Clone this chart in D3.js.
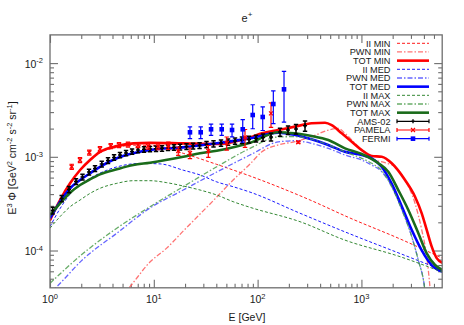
<!DOCTYPE html>
<html lang="en">
<head>
<meta charset="UTF-8">
<title>e+ spectrum</title>
<script src="https://d3js.org/d3.v7.min.js"></script>
<style>
  body { margin: 0; background: #fff; }
  svg text { font-family: "Liberation Sans", Arial, sans-serif; fill: #1a1a1a; }
</style>
</head>
<body>
<div id="chart"></div>
<script>
// model curves, pairs of [E in GeV, E^3 Phi]
const iiMin = [[1,2.05e-4],[1.25,3.38e-4],[1.56,5.1e-4],[1.95,7.1e-4],[2.43,9.05e-4],[3.03,1.1e-3],[4.4,1.26e-3],[6.35,1.33e-3],[9.2,1.32e-3],[13.3,1.23e-3],[19.2,1.09e-3],[40.4,8.3e-4],[84.5,6.24e-4],[320,3.46e-4],[777,2.22e-4],[2354,1.33e-4],[6000,8.3e-5]];
const pwnMin = [[5,3.3e-5],[5.9,4.11e-5],[9.18,7.53e-5],[13.3,1.06e-4],[19.2,1.61e-4],[27.9,2.45e-4],[40.4,3.72e-4],[58.1,5.65e-4],[84.5,8.37e-4],[110,1.13e-3],[158,1.34e-3],[229,1.45e-3],[332,1.64e-3],[480,1.93e-3],[599,2.01e-3],[695,1.78e-3],[867,1.39e-3],[1083,1.09e-3],[1352,9.24e-4],[1687,8.65e-4],[2107,7.84e-4],[2630,5.65e-4],[3284,3.19e-4],[3810,1.66e-4],[4256,8.6e-5],[4580,3.98e-5],[4800,2e-5]];
const totMin = [[1,2.11e-4],[1.25,3.46e-4],[1.56,5.21e-4],[1.95,7.23e-4],[2.43,9.24e-4],[3.03,1.13e-3],[4.4,1.3e-3],[6.35,1.39e-3],[9.2,1.41e-3],[19.2,1.39e-3],[40.4,1.37e-3],[80,1.58e-3],[110,1.78e-3],[158,1.93e-3],[229,2.1e-3],[332,2.28e-3],[446,2.31e-3],[517,2.18e-3],[646,1.78e-3],[807,1.45e-3],[1007,1.18e-3],[1256,1.02e-3],[1570,1.0e-3],[1959,8.53e-4],[2630,5.65e-4],[3284,3.75e-4],[3810,2.49e-4],[4256,1.66e-4],[4755,1.1e-4],[5310,8.3e-5],[6000,7.4e-5]];
const iiMed = [[1,1.8e-4],[1.25,2.8e-4],[1.56,4.0e-4],[1.95,5.0e-4],[2.43,5.9e-4],[3.03,6.7e-4],[4.4,7.8e-4],[7.4,8.5e-4],[11.5,8.4e-4],[19.2,7.2e-4],[27.9,6.4e-4],[40.4,5.4e-4],[58,4.8e-4],[84.5,4.2e-4],[256,2.5e-4],[695,1.58e-4],[2350,9.3e-5],[6000,6.2e-5]];
const pwnMed = [[1,3.5e-5],[1.16,4.1e-5],[2.09,8.1e-5],[4.4,1.53e-4],[9.18,2.84e-4],[19.2,4.42e-4],[40.4,6.88e-4],[84.5,1.045e-3],[158,1.44e-3],[229,1.485e-3],[332,1.39e-3],[480,1.23e-3],[695,1.045e-3],[1007,9.24e-4],[1256,8.17e-4],[1570,6.93e-4],[1959,4.8e-4],[2455,2.71e-4],[3055,1.4e-4],[3530,7.9e-5],[4060,4.0e-5],[4300,2.2e-5]];
const totMed = [[1,2.21e-4],[1.25,3.32e-4],[1.56,4.61e-4],[1.95,5.65e-4],[2.43,6.67e-4],[3.03,7.83e-4],[4.4,9.64e-4],[6.31,1.089e-3],[9.18,1.183e-3],[19.05,1.262e-3],[40.4,1.393e-3],[84.5,1.574e-3],[158,1.807e-3],[229,1.71e-3],[331,1.538e-3],[479,1.337e-3],[692,1.132e-3],[1007,1.045e-3],[1259,9.64e-4],[1567,7.83e-4],[1950,5.21e-4],[2455,2.93e-4],[3055,1.656e-4],[3800,1.01e-4],[4750,7.0e-5],[6000,5.95e-5]];
const iiMax = [[1,1.73e-4],[1.25,2.3e-4],[1.56,2.93e-4],[1.95,3.46e-4],[2.43,4.07e-4],[3.03,4.61e-4],[4.4,5.21e-4],[6.35,5.56e-4],[9.18,5.56e-4],[13.3,5.3e-4],[19.2,4.88e-4],[27.9,4.42e-4],[40.4,3.91e-4],[58.1,3.32e-4],[84.5,2.89e-4],[256,2.03e-4],[695,1.29e-4],[2354,8.6e-5],[6000,5.9e-5]];
const pwnMax = [[1,4.47e-5],[2.09,9.33e-5],[4.4,1.73e-4],[9.18,2.93e-4],[19.2,4.8e-4],[40.4,7.84e-4],[84.5,1.23e-3],[158,1.63e-3],[229,1.64e-3],[332,1.54e-3],[480,1.34e-3],[695,1.13e-3],[1007,9.64e-4],[1256,8.53e-4],[1570,7.11e-4],[1959,4.8e-4],[2455,2.71e-4],[3055,1.4e-4],[3530,7.9e-5],[4060,4.0e-5],[4300,2.2e-5]];
const totMax = [[1,2.39e-4],[1.25,3.19e-4],[1.56,4.14e-4],[1.95,5.0e-4],[2.43,5.75e-4],[3.03,6.5e-4],[4.4,7.36e-4],[6.35,8.17e-4],[9.18,8.65e-4],[19.2,1.0e-3],[27.9,1.09e-3],[40.4,1.16e-3],[84.5,1.41e-3],[158,1.83e-3],[229,1.78e-3],[332,1.67e-3],[480,1.51e-3],[695,1.23e-3],[1007,1.07e-3],[1455,8.53e-4],[1815,6.93e-4],[2265,4.42e-4],[2830,2.71e-4],[3535,1.53e-4],[4256,9.33e-5],[5117,7.0e-5],[6000,6.2e-5]];

// measurements: energy, value, error
const amsE = [1.06,1.296,1.524,1.78,2.056,2.376,2.714,3.15,3.62,4.14,4.72,5.4,6.17,7.04,8.05,9.19,10.5,12.0,13.7,15.65,17.9,20.65,23.9,27.6,32.2,37.6,44.4,51.9,60.6,70.7,82.6,96.5,112.7,134.6,164.4,196.3,234.4,286.2];
const amsV = [2.67e-4,3.59e-4,4.48e-4,5.45e-4,6.09e-4,6.88e-4,7.5e-4,8.38e-4,9.13e-4,9.83e-4,1.045e-3,1.098e-3,1.139e-3,1.182e-3,1.202e-3,1.211e-3,1.22e-3,1.232e-3,1.251e-3,1.263e-3,1.272e-3,1.288e-3,1.304e-3,1.32e-3,1.353e-3,1.38e-3,1.404e-3,1.439e-3,1.474e-3,1.511e-3,1.53e-3,1.568e-3,1.607e-3,1.627e-3,1.839e-3,1.932e-3,1.981e-3,2.147e-3];
const amsErr = [2.2e-5,2.8e-5,3.4e-5,4.0e-5,4.4e-5,4.8e-5,5.2e-5,5.8e-5,6.2e-5,6.6e-5,7.0e-5,7.3e-5,7.5e-5,7.8e-5,8.0e-5,8.1e-5,8.2e-5,8.3e-5,8.4e-5,8.6e-5,8.8e-5,9.0e-5,9.3e-5,9.6e-5,1.0e-4,1.04e-4,1.08e-4,1.12e-4,1.16e-4,1.2e-4,1.25e-4,1.33e-4,1.42e-4,1.52e-4,1.8e-4,2.0e-4,2.3e-4,2.7e-4];
const pamE = [1.618,1.945,2.391,3.03,3.845,4.62,5.64,7.04,8.79,10.98,13.8,17.2,22.3,33.5,50.4,75.6,134.6,246.6];
const pamV = [7.84e-4,9.24e-4,1.111e-3,1.211e-3,1.304e-3,1.336e-3,1.353e-3,1.336e-3,1.304e-3,1.288e-3,1.32e-3,1.153e-3,1.098e-3,1.153e-3,1.404e-3,1.607e-3,2.91e-3,1.429e-3];
const pamErr = [4.9e-5,5.8e-5,7.0e-5,7.6e-5,8.2e-5,8.4e-5,8.5e-5,8.4e-5,9.9e-5,9.8e-5,1.19e-4,1.19e-4,1.43e-4,1.67e-4,2.23e-4,3.49e-4,8.5e-4,3e-5];
const fermiE = [22.3,28.3,35.6,45.1,56.7,71.9,89.7,112,141.7,179.6];
const fermiV = [1.826e-3,1.826e-3,1.966e-3,1.966e-3,1.932e-3,1.966e-3,2.793e-3,2.66e-3,3.66e-3,5.25e-3];
const fermiErr = [2.6e-4,2.6e-4,2.7e-4,2.7e-4,3.0e-4,5.3e-4,8.0e-4,7.5e-4,1.4e-3,2.9e-3];

const xMajor = [1, 10, 100, 1000];
const yMajor = [1e-4, 1e-3, 1e-2];

const W = 464, H = 325;
const P = { left: 50, right: 442.2, top: 34.9, bottom: 287.8 };

const svg = d3.select("#chart").append("svg")
  .attr("width", W).attr("height", H);

const x = d3.scaleLog().domain([1, 6000]).range([P.left, P.right]);
const y = d3.scaleLog().domain([4e-5, 2e-2]).range([P.bottom, P.top]);

// minor tick positions, 2..9 in every decade
const xMinor = [], yMinor = [];
[1, 10, 100, 1000].forEach(d => { for (let k = 2; k <= 9; k++) if (d * k < 6000) xMinor.push(d * k); });
[1e-5, 1e-4, 1e-3, 1e-2].forEach(d => { for (let k = 2; k <= 9; k++) { const v = d * k; if (v > 4e-5 && v < 2e-2) yMinor.push(v); } });

const frameColor = "#6e6e6e";

function tickAxis(axis, vals, size) {
  return axis.tickValues(vals).tickSize(size).tickFormat("");
}
function addTicks(axisFn, scale, transform) {
  const minor = scale === x ? xMinor : yMinor;
  const major = scale === x ? xMajor : yMajor;
  [[minor, -4], [major, -8]].forEach(([vals, size]) => {
    svg.append("g").attr("transform", transform)
      .call(tickAxis(axisFn(scale), vals, size))
      .call(g => g.select(".domain").remove())
      .call(g => g.selectAll(".tick line").attr("stroke", frameColor).attr("stroke-width", 1.1));
  });
}
addTicks(d3.axisBottom, x, `translate(0,${P.bottom})`);
addTicks(d3.axisTop, x, `translate(0,${P.top})`);
addTicks(d3.axisLeft, y, `translate(${P.left},0)`);
addTicks(d3.axisRight, y, `translate(${P.right},0)`);

// text with superscripts
function rich(sel, parts, supSize, shift) {
  parts.forEach(([t, sup], i) => {
    const prev = i > 0 && parts[i - 1][1];
    const ts = sel.append("tspan").text(t);
    if (sup && !prev) ts.attr("dy", -shift);
    if (!sup && prev) ts.attr("dy", shift);
    if (sup) ts.attr("font-size", supSize);
  });
}

// tick labels
xMajor.forEach(v => {
  const t = svg.append("text").attr("x", x(v)).attr("y", 303)
    .attr("text-anchor", "middle").attr("font-size", 10.5);
  rich(t, [["10", false], [String(Math.round(Math.log10(v))), true]], 7.5, 4.5);
});
yMajor.forEach(v => {
  const t = svg.append("text").attr("x", 43).attr("y", y(v) + 4.6)
    .attr("text-anchor", "end").attr("font-size", 10.5);
  rich(t, [["10", false], [String(Math.round(Math.log10(v))), true]], 7.5, 4.5);
});

// titles
const title = svg.append("text").attr("x", 247).attr("y", 21.5)
  .attr("text-anchor", "middle").attr("font-size", 11);
rich(title, [["e", false], ["+", true]], 8, 5);

svg.append("text").attr("x", 247).attr("y", 321)
  .attr("text-anchor", "middle").attr("font-size", 10.5).text("E [GeV]");

const yl = svg.append("text").attr("transform", "translate(15.5,158) rotate(-90)")
  .attr("text-anchor", "middle").attr("font-size", 10.5);
rich(yl, [["E", false], ["3", true], [" \u03a6 [GeV", false], ["2", true], [" cm", false], ["-2", true], [" s", false], ["-2", true], [" sr", false], ["-1", true], ["]", false]], 7.5, 4);

// curves
const series = [
  { name: "II MIN", data: iiMin, color: "#ff0000", w: 0.9, dash: "3,2", op: 1 },
  { name: "PWN MIN", data: pwnMin, color: "#ff5a5a", w: 1.3, dash: "5,2,1.5,2", op: 0.85 },
  { name: "TOT MIN", data: totMin, color: "#ff0000", w: 2.6, dash: null, op: 1 },
  { name: "II MED", data: iiMed, color: "#0000ff", w: 0.9, dash: "3,2", op: 1 },
  { name: "PWN MED", data: pwnMed, color: "#4a4aff", w: 1.3, dash: "5,2,1.5,2", op: 0.85 },
  { name: "TOT MED", data: totMed, color: "#0000ff", w: 2.6, dash: null, op: 1 },
  { name: "II MAX", data: iiMax, color: "#1d7a1d", w: 0.9, dash: "3,2", op: 1 },
  { name: "PWN MAX", data: pwnMax, color: "#4e9e4e", w: 1.3, dash: "5,2,1.5,2", op: 0.85 },
  { name: "TOT MAX", data: totMax, color: "#1a6b1a", w: 2.6, dash: null, op: 1 }
];

svg.append("clipPath").attr("id", "plotclip").append("rect")
  .attr("x", P.left).attr("y", P.top)
  .attr("width", P.right - P.left).attr("height", P.bottom - P.top);

const plot = svg.append("g").attr("clip-path", "url(#plotclip)");
const line = d3.line().x(d => x(d[0])).y(d => y(d[1])).curve(d3.curveMonotoneX);

series.forEach(s => {
  plot.append("path").datum(s.data)
    .attr("d", line)
    .attr("fill", "none")
    .attr("stroke", s.color)
    .attr("stroke-width", s.w)
    .attr("stroke-opacity", s.op)
    .attr("stroke-dasharray", s.dash);
});

// markers
function marker(g, type, cx, cy, color) {
  if (type === "plus") {
    g.append("path").attr("d", `M${cx - 2},${cy}H${cx + 2}M${cx},${cy - 2}V${cy + 2}`)
      .attr("stroke", color).attr("stroke-width", 1.4);
  } else if (type === "cross") {
    g.append("path").attr("d", `M${cx - 2},${cy - 2}L${cx + 2},${cy + 2}M${cx - 2},${cy + 2}L${cx + 2},${cy - 2}`)
      .attr("stroke", color).attr("stroke-width", 1.2);
  } else {
    g.append("rect").attr("x", cx - 2.3).attr("y", cy - 2.3).attr("width", 4.6).attr("height", 4.6)
      .attr("fill", color);
  }
}

const datasets = [
  { name: "AMS-02", E: amsE, V: amsV, err: amsErr, color: "#000000", mk: "plus", sw: 1.5 },
  { name: "PAMELA", E: pamE, V: pamV, err: pamErr, color: "#ff0000", mk: "cross", sw: 1.2 },
  { name: "FERMI", E: fermiE, V: fermiV, err: fermiErr, color: "#0000ff", mk: "square", sw: 1.2 }
];

datasets.forEach(ds => {
  const g = plot.append("g");
  ds.E.forEach((e, i) => {
    const cx = x(e), cy = y(ds.V[i]);
    const y1 = y(ds.V[i] + ds.err[i]), y2 = y(ds.V[i] - ds.err[i]);
    g.append("path")
      .attr("d", `M${cx},${y1}V${y2}M${cx - 2.2},${y1}H${cx + 2.2}M${cx - 2.2},${y2}H${cx + 2.2}`)
      .attr("stroke", ds.color).attr("stroke-width", ds.sw).attr("fill", "none");
    marker(g, ds.mk, cx, cy, ds.color);
  });
});

// legend
const legend = svg.append("g");
const entries = series.map(s => ({ kind: "line", s })).concat(datasets.map(d => ({ kind: "data", d })));
entries.forEach((en, i) => {
  const ly = 43.3 + i * 8.67;
  const name = en.kind === "line" ? en.s.name : en.d.name;
  legend.append("text").attr("x", 390.5).attr("y", ly + 3.2)
    .attr("text-anchor", "end").attr("font-size", 9.2).text(name);
  if (en.kind === "line") {
    legend.append("line").attr("x1", 397).attr("x2", 429).attr("y1", ly).attr("y2", ly)
      .attr("stroke", en.s.color).attr("stroke-width", en.s.w)
      .attr("stroke-opacity", en.s.op).attr("stroke-dasharray", en.s.dash);
  } else {
    legend.append("path").attr("d", `M397,${ly}H429M397,${ly - 2}V${ly + 2}M429,${ly - 2}V${ly + 2}`)
      .attr("stroke", en.d.color).attr("stroke-width", 1.2);
    marker(legend, en.d.mk, 413, ly, en.d.color);
  }
});

// frame
svg.append("rect").attr("x", P.left).attr("y", P.top)
  .attr("width", P.right - P.left).attr("height", P.bottom - P.top)
  .attr("fill", "none").attr("stroke", frameColor).attr("stroke-width", 1.3);
</script>
</body>
</html>
